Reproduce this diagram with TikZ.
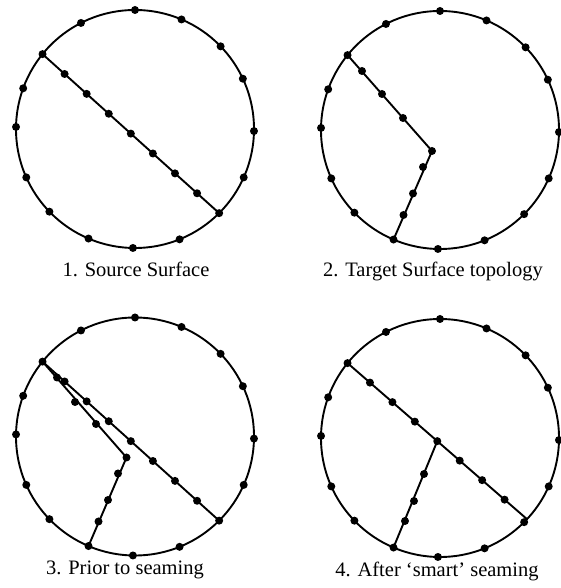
\documentclass[tikz,border=0pt]{standalone}
\usepackage{fontspec}
\setmainfont{Liberation Serif}
\usetikzlibrary{calc}
\begin{document}
\begin{tikzpicture}[x=1pt,y=1pt,
  edge/.style={line width=1.9pt},
  rim/.style={line width=1.9pt},
  dot/.style={circle,fill=black,inner sep=0pt,minimum size=8pt},
  caption/.style={anchor=base,font=\fontsize{20.5}{24}\selectfont}]
\useasboundingbox (0,0) rectangle (561,588);
\def\rimangles{90,67,44,25,-1,-24,-45,-68,-91,-113,-136,-156,179,160,141,117}
% ---- 1. Source Surface
\begin{scope}[shift={(135,459)}]
  \draw[rim] (0,0) circle (119);
  \coordinate (A1) at (141:119);
  \coordinate (B1) at (-45:119);
  \draw[edge] (A1) -- (B1);
  \foreach \a in \rimangles {\node[dot] at (\a:119) {};}
  \foreach \t in {1,...,7} {\node[dot] at ($(A1)!\t/8!(B1)$) {};}
\end{scope}
\node[caption] (l1) at (136,311) {1. Source Surface};
% ---- 2. Target Surface topology
\begin{scope}[shift={(440,458)}]
  \draw[rim] (0,0) circle (119);
  \coordinate (A2) at (141:119);
  \coordinate (K2) at (-8,-21);
  \coordinate (D2) at (-113:119);
  \draw[edge] (A2) -- (K2) -- (D2);
  \foreach \a in \rimangles {\node[dot] at (\a:119) {};}
  \node[dot] at (K2) {};
  \foreach \p in {(-78,59),(-58,36),(-37,12),(-17,-37),(-27,-63.5),(-36.5,-85)} {\node[dot] at \p {};}
\end{scope}
\node[caption] (l2) at (433,311) {2. Target Surface topology};
% ---- 3. Prior to seaming
\begin{scope}[shift={(135,151.5)}]
  \draw[rim] (0,0) circle (119);
  \coordinate (A3) at (141:119);
  \coordinate (B3) at (-45:119);
  \coordinate (K3) at (-8.5,-21);
  \coordinate (D3) at (-113:119);
  \draw[edge] (A3) -- (B3);
  \draw[edge] (A3) -- (K3) -- (D3);
  \foreach \a in \rimangles {\node[dot] at (\a:119) {};}
  \foreach \t in {1,...,7} {\node[dot] at ($(A3)!\t/8!(B3)$) {};}
  \node[dot] at (K3) {};
  \foreach \p in {(-78,59),(-60,34.5),(-39,12.5),(-17,-37),(-27,-63.5),(-36.5,-85)} {\node[dot] at \p {};}
\end{scope}
\node[caption] (l3) at (125,13) {3. Prior to seaming};
% ---- 4. After 'smart' seaming
\begin{scope}[shift={(440,150)}]
  \draw[rim] (0,0) circle (119);
  \coordinate (A4) at (141:119);
  \coordinate (B4) at (-43:119);
  \coordinate (J4) at ($(A4)!0.5!(B4)$);
  \coordinate (D4) at (-113:119);
  \draw[edge] (A4) -- (B4);
  \draw[edge] (J4) -- (D4);
  \foreach \a in \rimangles {\node[dot] at (\a:119) {};}
  \foreach \t in {1,...,7} {\node[dot] at ($(A4)!\t/8!(B4)$) {};}
  \foreach \p in {(-16,-36),(-26,-63),(-35,-83)} {\node[dot] at \p {};}
\end{scope}
\node[caption] (l4) at (437,11) {4. After ‘smart’ seaming};
\end{tikzpicture}
\end{document}
